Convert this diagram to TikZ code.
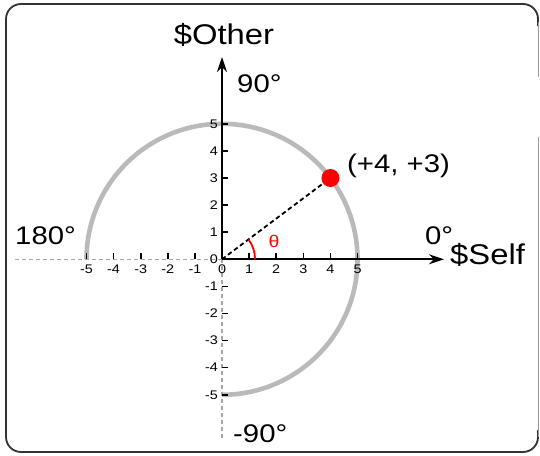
\documentclass[tikz,border=0pt]{standalone}
\usepackage{fontspec}
\setmainfont{Liberation Sans}
\newfontfamily\wide[FakeStretch=1.15]{Liberation Sans}
\usetikzlibrary{arrows.meta}
\begin{document}
\begin{tikzpicture}[x=27.1pt,y=27.1pt,
  axisline/.style={line width=2.3pt,black},
  negaxis/.style={line width=1.5pt,black!35,dash pattern=on 4pt off 3pt},
  tickmark/.style={line width=1.6pt,black},
  ticklbl/.style={font=\fontsize{12.5}{13}\selectfont\wide,inner sep=0pt},
  biglbl/.style={font=\fontsize{28.5}{30}\selectfont\wide,inner sep=0pt},
  deglbl/.style={font=\fontsize{25.5}{27}\selectfont\wide,inner sep=0pt},
  arrowtip/.style={-{Stealth[length=15pt,width=10pt]}},
]
\useasboundingbox (-8.192,-7.258) rectangle (11.734,9.568);
% frame
\draw[line width=1.8pt,black!80,rounded corners=15pt]
  (11.661,8.6) |- (-7.970,9.421) |- (11.661,-7.111) -- (11.661,-6.3);
\draw[line width=0.8pt,black!40] (11.661,8.75) -- (11.661,6.727);
\draw[line width=0.8pt,black!40] (11.661,4.513) -- (11.661,-6.55);
% coordinates
\coordinate (O) at (0,0);
\coordinate (xtip) at (8.19,0);
\coordinate (ytip) at (0,7.465);
\coordinate (xneg) at (-7.638,0);
\coordinate (yneg) at (0,-6.667);
% gray circle arc
\draw[line width=4.6pt,black!27] (-5,0) arc[start angle=180,end angle=-90,radius=5];
% negative axes
\draw[negaxis] (O) -- (xneg);
\draw[negaxis] (O) -- (yneg);
% ticks
\foreach \i in {1,...,5} {
  \draw[tickmark] (\i,0) -- ++(0,6pt);
  \draw[tickmark] (-\i,0) -- ++(0,6pt);
  \draw[tickmark] (0,\i) -- ++(6pt,0);
  \draw[tickmark] (0,-\i) -- ++(6pt,0);
  \node[ticklbl,anchor=north,yshift=-5pt] (xp\i) at (\i,0) {\i};
  \node[ticklbl,anchor=north,yshift=-5pt] (xn\i) at (-\i,0) {-\i};
  \node[ticklbl,anchor=east,xshift=-4pt] (yp\i) at (0,\i) {\i};
  \node[ticklbl,anchor=east,xshift=-4pt] (yn\i) at (0,-\i) {-\i};
}
\node[ticklbl,anchor=north,yshift=-5pt] (x0) at (0,0) {0};
\node[ticklbl,anchor=east,xshift=-4pt] (y0) at (0,0) {0};
% axes
\draw[axisline,arrowtip] (O) -- (xtip);
\draw[axisline,arrowtip] (O) -- (ytip);
% point
\node[circle,fill=red,inner sep=0pt,minimum size=18pt] (P) at (4,3) {};
\draw[line width=1.8pt,black,dash pattern=on 4.5pt off 3pt] (O) -- (P);
\draw[red,line width=1.8pt] (1.22,0) arc[start angle=0,end angle=36.87,radius=1.22];
\node[text=red,font=\fontsize{17}{18}\selectfont\wide,inner sep=0pt] (th) at (1.92,0.65) {θ};
% labels
\node[biglbl,anchor=base] (lOther) at (0.074,7.908) {\$Other};
\node[deglbl,anchor=base west] (l90) at (0.554,6.137) {90°};
\node[deglbl,anchor=base west] (l180) at (-7.638,0.528) {180°};
\node[deglbl,anchor=base west] (l0) at (7.49,0.528) {0°};
\node[biglbl,anchor=base west] (lSelf) at (8.413,-0.210) {\$Self};
\node[deglbl,anchor=base west] (lm90) at (0.406,-6.742) {-90°};
\node[deglbl,anchor=base west] (lpt) at (4.613,3.185) {(+4, +3)};
\end{tikzpicture}
\end{document}
